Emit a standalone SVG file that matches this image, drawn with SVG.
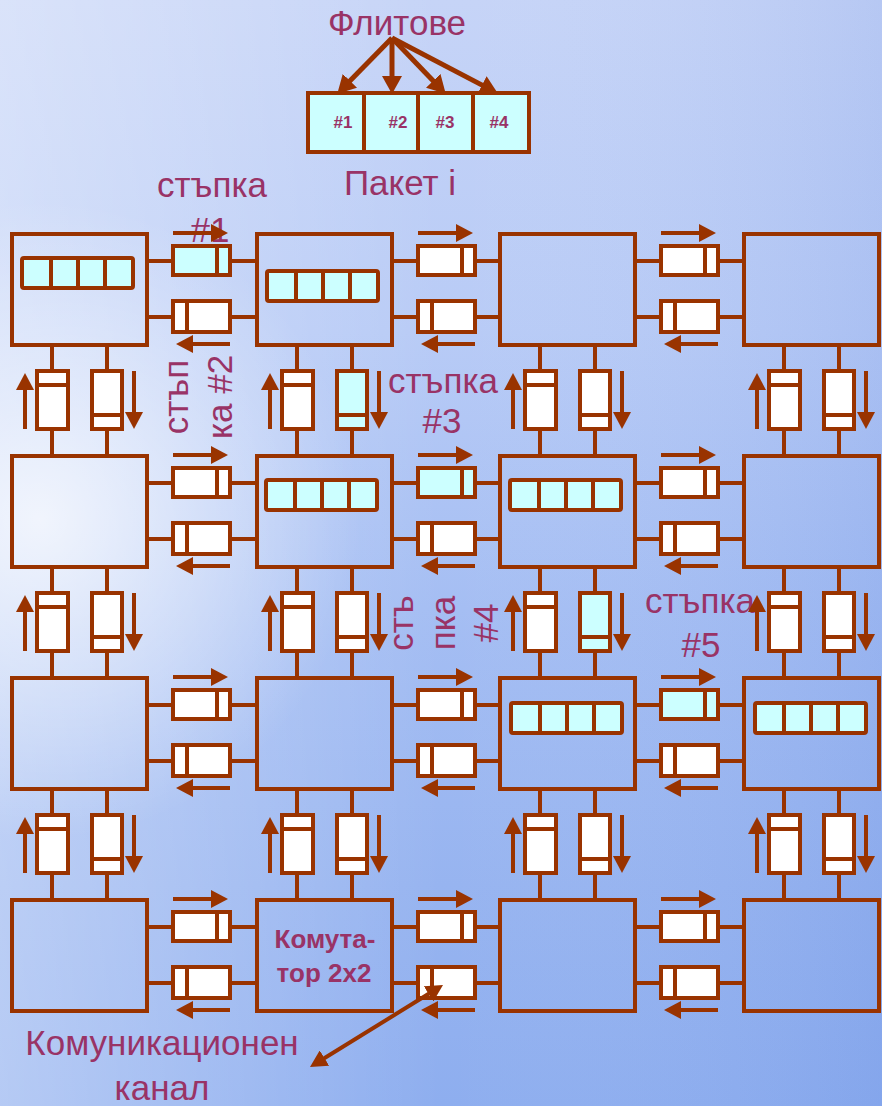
<svg xmlns="http://www.w3.org/2000/svg" width="882" height="1106" viewBox="0 0 882 1106">
<style>
.box{fill:none;stroke:#993300;stroke-width:4}
.buf{fill:#ffffff;stroke:#993300;stroke-width:4}
.bufc{fill:#ccffff;stroke:#993300;stroke-width:4}
.pkt{fill:#ccffff;stroke:#993300;stroke-width:4}
.ln{fill:none;stroke:#993300;stroke-width:4}
.ar{fill:none;stroke:#993300;stroke-width:4;marker-end:url(#ah)}
.ar2{fill:none;stroke:#993300;stroke-width:5;marker-end:url(#ah2)}
.t{font-family:"Liberation Sans",Arial,sans-serif;fill:#993366;font-size:35px;text-anchor:middle}
.tb{font-family:"Liberation Sans",Arial,sans-serif;fill:#993366;font-size:26px;font-weight:bold;text-anchor:middle}
.ts{font-family:"Liberation Sans",Arial,sans-serif;fill:#993366;font-size:17px;font-weight:bold;text-anchor:middle}
</style>
<defs>
<linearGradient id="bg" x1="0" y1="0" x2="0" y2="1">
<stop offset="0" stop-color="#c6d4f7"/>
<stop offset="0.3" stop-color="#b8cbf6"/>
<stop offset="0.55" stop-color="#a5bef3"/>
<stop offset="0.8" stop-color="#97b4f0"/>
<stop offset="1" stop-color="#8eaeef"/>
</linearGradient>
<linearGradient id="bgh" x1="0" y1="0" x2="1" y2="0">
<stop offset="0" stop-color="#ffffff" stop-opacity="0.35"/>
<stop offset="0.5" stop-color="#ffffff" stop-opacity="0"/>
<stop offset="1" stop-color="#2a5ad0" stop-opacity="0.1"/>
</linearGradient>
<radialGradient id="glow" gradientUnits="userSpaceOnUse" cx="40" cy="520" r="320">
<stop offset="0" stop-color="#ffffff" stop-opacity="0.75"/>
<stop offset="1" stop-color="#ffffff" stop-opacity="0"/>
</radialGradient>
<marker id="ah" markerUnits="userSpaceOnUse" markerWidth="18" markerHeight="18" refX="5" refY="9" orient="auto-start-reverse"><path d="M0,0L17,9L0,18z" fill="#993300"/></marker>
<marker id="ah2" markerUnits="userSpaceOnUse" markerWidth="19" markerHeight="20" refX="5" refY="10" orient="auto-start-reverse"><path d="M0,0L18,10L0,20z" fill="#993300"/></marker>
<g id="hc">
<path class="ln" d="M135,27H161M218,27H244M135,83H161M218,83H244"/>
<rect class="buf" x="161" y="12" width="57" height="29"/><path class="ln" d="M205,12V41"/>
<rect class="buf" x="161" y="67" width="57" height="31"/><path class="ln" d="M175,67V98"/>
<path class="ar" d="M161,-1H204"/>
<path class="ar" d="M218,110H176"/>
</g>
<g id="hcc">
<path class="ln" d="M135,27H161M218,27H244M135,83H161M218,83H244"/>
<rect class="bufc" x="161" y="12" width="57" height="29"/><path class="ln" d="M205,12V41"/>
<rect class="buf" x="161" y="67" width="57" height="31"/><path class="ln" d="M175,67V98"/>
<path class="ar" d="M161,-1H204"/>
<path class="ar" d="M218,110H176"/>
</g>
<g id="vc">
<path class="ln" d="M40,111V137M40,195V222M95,111V137M95,195V222"/>
<rect class="buf" x="25" y="137" width="31" height="58"/><path class="ln" d="M25,151H56"/>
<rect class="buf" x="80" y="137" width="30" height="58"/><path class="ln" d="M80,181H110"/>
<path class="ar" d="M13,195V151"/>
<path class="ar" d="M122,137V183"/>
</g>
<g id="vcc">
<path class="ln" d="M40,111V137M40,195V222M95,111V137M95,195V222"/>
<rect class="buf" x="25" y="137" width="31" height="58"/><path class="ln" d="M25,151H56"/>
<rect class="bufc" x="80" y="137" width="30" height="58"/><path class="ln" d="M80,181H110"/>
<path class="ar" d="M13,195V151"/>
<path class="ar" d="M122,137V183"/>
</g>
<g id="pk">
<rect class="pkt" x="0" y="0" width="111" height="30" rx="2"/>
<path class="ln" d="M29,0V30M56,0V30M83,0V30"/>
</g>
</defs>
<rect width="882" height="1106" fill="url(#bg)"/>
<rect width="882" height="1106" fill="url(#bgh)"/>
<rect width="882" height="1106" fill="url(#glow)"/>

<g id="labels">
<text class="t" x="397" y="35">Флитове</text>
<text class="t" x="400" y="195">Пакет і</text>
<text class="t" x="212" y="197">стъпка</text>
<text class="t" x="210" y="242">#1</text>
<text class="t" transform="translate(188,397) rotate(-90)">стъп</text>
<text class="t" transform="translate(232,397) rotate(-90)">ка #2</text>
<text class="t" x="443" y="393">стъпка</text>
<text class="t" x="442" y="433">#3</text>
<text class="t" transform="translate(413,623) rotate(-90)">стъ</text>
<text class="t" transform="translate(455,623) rotate(-90)">пка</text>
<text class="t" transform="translate(498,623) rotate(-90)">#4</text>
<text class="t" x="700" y="613">стъпка</text>
<text class="t" x="701" y="657">#5</text>
<text class="t" x="162" y="1055">Комуникационен</text>
<text class="t" x="162" y="1100">канал</text>
</g>

<g id="packet-i">
<rect class="pkt" x="308" y="93" width="221" height="59" stroke-width="5"/>
<path class="ln" d="M364,93V152M418,93V152M473,93V152" stroke-width="5"/>
<text class="ts" x="343" y="128">#1</text>
<text class="ts" x="398" y="128">#2</text>
<text class="ts" x="445" y="128">#3</text>
<text class="ts" x="499" y="128">#4</text>
</g>

<g id="sw11"><rect class="box" x="12" y="234" width="135" height="111"/><use href="#pk" x="22" y="258"/></g>
<g id="sw12"><rect class="box" x="257" y="234" width="135" height="111"/><use href="#pk" x="267" y="271"/></g>
<g id="sw13"><rect class="box" x="500" y="234" width="135" height="111"/></g>
<g id="sw14"><rect class="box" x="744" y="234" width="135" height="111"/></g>
<g id="sw21"><rect class="box" x="12" y="456" width="135" height="111"/></g>
<g id="sw22"><rect class="box" x="257" y="456" width="135" height="111"/><use href="#pk" x="266" y="480"/></g>
<g id="sw23"><rect class="box" x="500" y="456" width="135" height="111"/><use href="#pk" x="510" y="480"/></g>
<g id="sw24"><rect class="box" x="744" y="456" width="135" height="111"/></g>
<g id="sw31"><rect class="box" x="12" y="678" width="135" height="111"/></g>
<g id="sw32"><rect class="box" x="257" y="678" width="135" height="111"/></g>
<g id="sw33"><rect class="box" x="500" y="678" width="135" height="111"/><use href="#pk" x="511" y="703"/></g>
<g id="sw34"><rect class="box" x="744" y="678" width="135" height="111"/><use href="#pk" x="755" y="703"/></g>
<g id="sw41"><rect class="box" x="12" y="900" width="135" height="111"/></g>
<g id="sw42"><rect class="box" x="257" y="900" width="135" height="111"/>
<text class="tb" x="325" y="948">Комута-</text>
<text class="tb" x="324" y="982">тор 2х2</text></g>
<g id="sw43"><rect class="box" x="500" y="900" width="135" height="111"/></g>
<g id="sw44"><rect class="box" x="744" y="900" width="135" height="111"/></g>

<g id="connectors">
<path class="ar2" d="M392,38L346.4,84.4"/>
<path class="ar2" d="M392,38L392,81"/>
<path class="ar2" d="M392,38L436.7,84.4"/>
<path class="ar2" d="M392,38L486.4,87.4"/>

<use href="#hcc" x="12" y="234"/>
<use href="#hc" x="257" y="234"/>
<use href="#hc" x="500" y="234"/>
<use href="#hc" x="12" y="456"/>
<use href="#hcc" x="257" y="456"/>
<use href="#hc" x="500" y="456"/>
<use href="#hc" x="12" y="678"/>
<use href="#hc" x="257" y="678"/>
<use href="#hcc" x="500" y="678"/>
<use href="#hc" x="12" y="900"/>
<use href="#hc" x="257" y="900"/>
<use href="#hc" x="500" y="900"/>

<use href="#vc" x="12" y="234"/>
<use href="#vcc" x="257" y="234"/>
<use href="#vc" x="500" y="234"/>
<use href="#vc" x="744" y="234"/>
<use href="#vc" x="12" y="456"/>
<use href="#vc" x="257" y="456"/>
<use href="#vcc" x="500" y="456"/>
<use href="#vc" x="744" y="456"/>
<use href="#vc" x="12" y="678"/>
<use href="#vc" x="257" y="678"/>
<use href="#vc" x="500" y="678"/>
<use href="#vc" x="744" y="678"/>

<path d="M320.2,1060.7L432.8,991.3" fill="none" stroke="#993300" stroke-width="4" marker-start="url(#ah)" marker-end="url(#ah)"/>
</g>
</svg>
